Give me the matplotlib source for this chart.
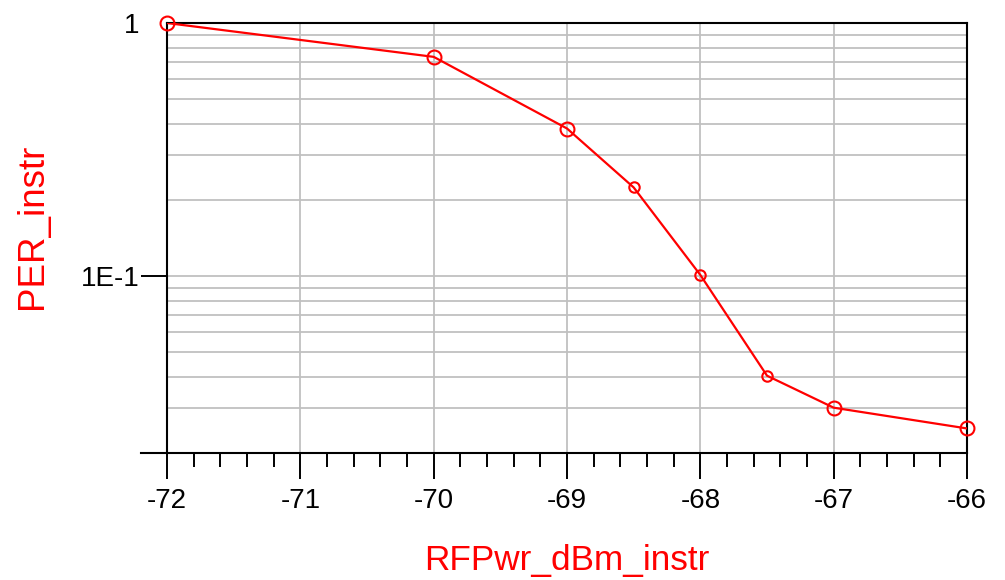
"""
PER vs RF power sweep, log scale y.
"""

import matplotlib

matplotlib.use("Agg")
import matplotlib.pyplot as plt
from matplotlib.lines import Line2D
from matplotlib.ticker import FixedLocator, LogLocator, NullFormatter

plt.rcParams["font.family"] = ["Liberation Sans", "DejaVu Sans"]

# coarse sweep points (big markers)
coarse_pwr = [-72, -70, -69, -67, -66]
coarse_per = [1.0, 0.735, 0.383, 0.0302, 0.025]

# refined points around the waterfall (small markers)
fine_pwr = [-68.5, -68, -67.5]
fine_per = [0.224, 0.101, 0.0404]

x_ticks = [-72, -71, -70, -69, -68, -67, -66]
y_ticks = [0.1, 1.0]
y_tick_labels = ["1E-1", "1"]

RED = "#ff0000"

# merge for the connecting line
pts = sorted(zip(coarse_pwr + fine_pwr, coarse_per + fine_per))
all_pwr = [p[0] for p in pts]
all_per = [p[1] for p in pts]

fig = plt.figure(figsize=(10.05, 5.8), dpi=100)
ax = fig.add_axes([0.1662, 0.219, 0.796, 0.7413])

ax.plot(all_pwr, all_per, color=RED, lw=1.6, zorder=3)
ax.plot(coarse_pwr, coarse_per, ls="none", marker="o", ms=10, mfc="none",
        mec=RED, mew=1.5, zorder=4, clip_on=False)
ax.plot(fine_pwr, fine_per, ls="none", marker="o", ms=7.5, mfc="none",
        mec=RED, mew=1.5, zorder=4, clip_on=False)

ax.set_yscale("log")
ax.set_xlim(-72, -66)
ax.set_ylim(0.02, 1.0)

ax.set_xticks(x_ticks)
ax.set_xticklabels([str(v) for v in x_ticks])
ax.xaxis.set_minor_locator(FixedLocator(
    [x0 + k * 0.2 for x0 in x_ticks[:-1] for k in range(1, 5)]))

ax.yaxis.set_major_locator(FixedLocator(y_ticks))
ax.set_yticklabels(y_tick_labels)
ax.yaxis.set_minor_locator(LogLocator(base=10, subs=range(2, 10)))
ax.yaxis.set_minor_formatter(NullFormatter())

ax.tick_params(axis="x", which="major", direction="out", length=19,
               width=1.4, pad=6, labelsize=20)
ax.tick_params(axis="x", which="minor", direction="out", length=10, width=1.4)
ax.tick_params(axis="y", which="major", direction="out", length=19,
               width=1.4, pad=1, labelsize=20)
ax.tick_params(axis="y", which="minor", length=0)
# no tick line at the top label
ax.yaxis.get_major_ticks()[1].tick1line.set_visible(False)

ax.grid(True, which="major", axis="x", color="#c0c0c0", lw=1.3)
ax.grid(True, which="both", axis="y", color="#c0c0c0", lw=1.3)
ax.set_axisbelow(True)

for s in ax.spines.values():
    s.set_linewidth(1.5)
    s.set_color("black")

# x-axis line runs a bit left past the y axis
ax.add_line(Line2D([-0.033, 0], [0, 0], transform=ax.transAxes, color="black",
                   lw=1.5, clip_on=False))

ax.set_xlabel("RFPwr_dBm_instr", color=RED, fontsize=25.3, labelpad=22)
ax.set_ylabel("PER_instr", color=RED, fontsize=26.5)
ax.yaxis.set_label_coords(-0.146, 0.528)

fig.savefig("out.png", dpi=100)
